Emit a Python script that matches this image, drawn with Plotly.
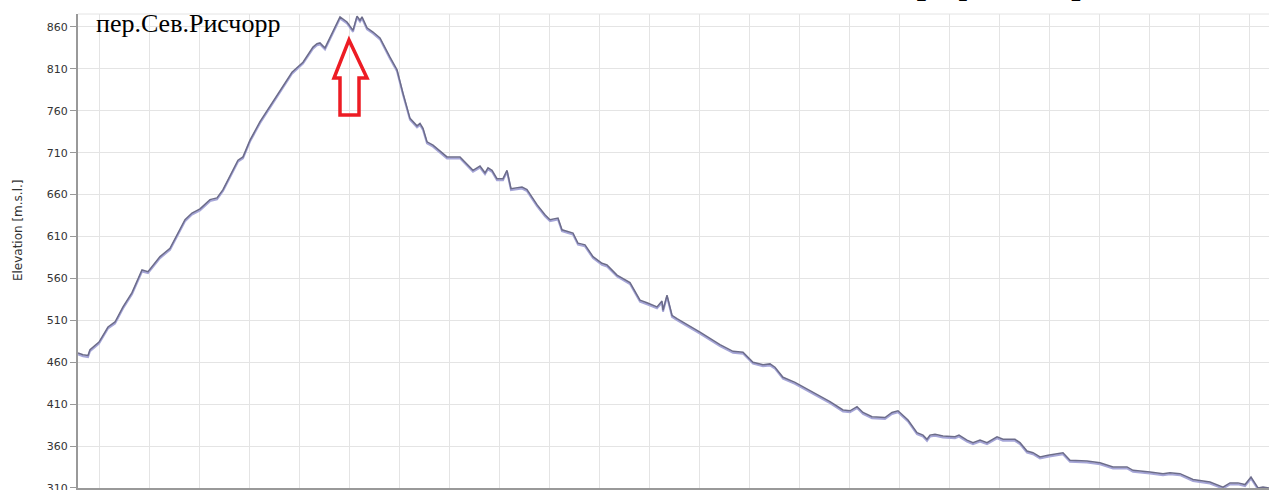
import plotly.graph_objects as go

# distance along route (km) and elevation (m a.s.l.)
distance_km = [0.00, 0.05, 0.10, 0.12, 0.21, 0.30, 0.37, 0.45, 0.54, 0.64, 0.70, 0.82, 0.92, 0.99,
               1.07, 1.14, 1.22, 1.32, 1.39, 1.45, 1.54, 1.60, 1.65, 1.72, 1.82, 1.92, 2.04, 2.14,
               2.25, 2.35, 2.39, 2.42, 2.47, 2.52, 2.57, 2.62, 2.69, 2.75, 2.79, 2.82, 2.84, 2.89,
               2.95, 3.02, 3.12, 3.19, 3.25, 3.32, 3.39, 3.42, 3.45, 3.49, 3.55, 3.69, 3.82, 3.95,
               4.02, 4.07, 4.10, 4.14, 4.19, 4.25, 4.29, 4.33, 4.44, 4.49, 4.59, 4.67, 4.72, 4.80,
               4.84, 4.95, 5.00, 5.07, 5.15, 5.24, 5.29, 5.39, 5.52, 5.62, 5.69, 5.79, 5.84, 5.85,
               5.89, 5.94, 5.99, 6.05, 6.22, 6.42, 6.55, 6.65, 6.75, 6.85, 6.92, 6.97, 7.05, 7.17,
               7.32, 7.42, 7.52, 7.65, 7.72, 7.79, 7.85, 7.94, 8.07, 8.14, 8.20, 8.30, 8.39, 8.45,
               8.49, 8.52, 8.57, 8.65, 8.77, 8.81, 8.89, 8.95, 9.02, 9.09, 9.19, 9.25, 9.37, 9.42,
               9.49, 9.55, 9.62, 9.70, 9.85, 9.92, 10.09, 10.22, 10.35, 10.49, 10.55, 10.72, 10.85,
               10.92, 11.02, 11.15, 11.32, 11.45, 11.52, 11.60, 11.67, 11.73, 11.80, 11.85, 11.91]
elevation_m = [471, 469, 468, 475, 484, 502, 508, 526, 543, 570, 568, 586, 596, 612,
               630, 638, 643, 654, 656, 666, 686, 701, 705, 725, 747, 765, 787, 806,
               818, 836, 840, 841, 835, 848, 860, 872, 866, 856, 873, 868, 872, 859,
               854, 847, 824, 809, 781, 751, 742, 745, 739, 723, 719, 705, 705, 689,
               694, 686, 692, 689, 679, 679, 689, 667, 669, 666, 648, 636, 630, 632,
               618, 614, 602, 600, 586, 578, 576, 564, 555, 534, 531, 526, 533, 522,
               540, 516, 512, 508, 496, 481, 473, 472, 460, 457, 458, 454, 442, 436,
               426, 419, 413, 403, 402, 407, 400, 395, 394, 400, 402, 391, 376, 373,
               368, 373, 374, 372, 371, 373, 367, 364, 367, 364, 371, 368, 368, 364,
               354, 352, 347, 349, 352, 343, 342, 340, 335, 335, 331, 329, 327,
               328, 327, 320, 317, 311, 316, 316, 314, 323, 310, 311, 310]

y_ticks = [310, 360, 410, 460, 510, 560, 610, 660, 710, 760, 810, 860]
y_range = [309.9, 875.5]
x_range = [0, 11.91]

# arrow outline pointing at the pass (data coords)
arrow_x = [2.71, 2.89, 2.81, 2.81, 2.62, 2.62, 2.56]
arrow_y = [844.5, 799, 799, 755, 755, 799, 799]

title_text = "пер.Сев.Рисчорр"
top_text = "Высотный профиль перевала"

shadow_shift = 1.8  # metres equivalent of ~1.5px shadow offset

fig = go.Figure()
fig.add_trace(go.Scatter(x=distance_km, y=elevation_m, mode="lines",
                         line=dict(color="#a6a6d8", width=2.0), yaxis="y",
                         hoverinfo="skip", showlegend=False))
fig.add_trace(go.Scatter(x=distance_km, y=elevation_m, mode="lines",
                         line=dict(color="#6c6c8a", width=1.5), yaxis="y2",
                         showlegend=False))

path = "M " + " L ".join(f"{x},{y}" for x, y in zip(arrow_x, arrow_y)) + " Z"

fig.update_layout(
    width=1269, height=490,
    margin=dict(l=78, r=0, t=14, b=2, autoexpand=False),
    paper_bgcolor="white", plot_bgcolor="white",
    font=dict(family="DejaVu Sans", size=11, color="#333333"),
    xaxis=dict(range=x_range, showticklabels=False, tick0=0.213, dtick=0.5,
               ticks="outside", ticklen=3, tickcolor="#999999", automargin=False,
               showgrid=True, gridcolor="#e4e4e4", gridwidth=1,
               showline=True, linecolor="#999999", linewidth=2, zeroline=False),
    yaxis=dict(range=[y_range[0] + shadow_shift, y_range[1] + shadow_shift],
               visible=False, showgrid=False, zeroline=False, automargin=False),
    yaxis2=dict(range=y_range, overlaying="y", side="left", automargin=False,
                tickvals=y_ticks, ticks="outside", ticklen=6, tickcolor="#999999",
                showgrid=True, gridcolor="#e4e4e4", gridwidth=1,
                showline=True, linecolor="#999999", linewidth=2, zeroline=False,
                ticklabeloverflow="allow",
                tickfont=dict(family="DejaVu Sans", size=11, color="#333333")),
    shapes=[
        dict(type="path", path=path, xref="x", yref="y2",
             line=dict(color="#ed1c24", width=3.5), fillcolor="rgba(0,0,0,0)"),
        dict(type="line", xref="paper", yref="paper", x0=0, x1=1, y0=1, y1=1,
             line=dict(color="#e4e4e4", width=1)),
    ],
    annotations=[
        dict(text=title_text, xref="paper", yref="paper", x=0.0135, y=0.981,
             xanchor="left", yanchor="middle", showarrow=False,
             font=dict(family="Liberation Serif", size=26, color="black")),
        dict(text="<b>" + top_text + "</b>", xref="paper", yref="paper", x=0.547, y=1.066,
             xanchor="left", yanchor="middle", showarrow=False,
             font=dict(family="Liberation Serif", size=33, color="black")),
        dict(text="Elevation [m.s.l.]", xref="paper", yref="paper", x=-0.0504, y=0.544,
             xanchor="center", yanchor="middle", showarrow=False, textangle=-90,
             font=dict(family="DejaVu Sans", size=12, color="#333333")),
    ],
)

fig.write_html("out.html", config={"displayModeBar": False})

with open("out.html", "r", encoding="utf-8") as f:
    html = f.read()
html = html.replace("<head>", "<head><style>html,body{margin:0;padding:0;overflow:hidden;}</style>", 1)
with open("out.html", "w", encoding="utf-8") as f:
    f.write(html)
